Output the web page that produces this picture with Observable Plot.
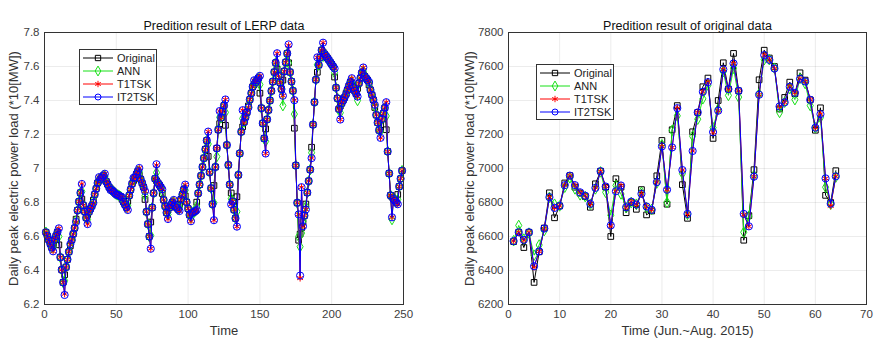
<!DOCTYPE html>
<html><head><meta charset="utf-8">
<script src="https://cdn.jsdelivr.net/npm/d3@7"></script>
<script src="https://cdn.jsdelivr.net/npm/@observablehq/plot@0.6"></script>
<style>
body{margin:0;background:#fff;font-family:"Liberation Sans",Arial,sans-serif;}
#wrap{display:flex;width:880px;height:354px;}
.panel{position:relative;width:440px;height:354px;}
.panel svg.legend{position:absolute;left:0;top:0;}
</style></head><body>
<div id="wrap"><div class="panel" id="p1"></div><div class="panel" id="p2"></div></div>
<script>
// ---------- LERP data (left panel), index t = 1..249 ----------
const lerpOriginal = [
6.625,6.603,6.580,6.558, 6.535,6.558,6.580,6.603, 6.625,6.551,6.478,6.404, 6.330,6.375,6.420,6.465,
6.510,6.545,6.580,6.615, 6.650,6.702,6.754,6.805, 6.857,6.820,6.784,6.747, 6.710,6.728,6.745,6.763,
6.780,6.814,6.848,6.881, 6.915,6.926,6.937,6.947, 6.958,6.941,6.924,6.907, 6.890,6.881,6.873,6.864,
6.855,6.850,6.845,6.840, 6.835,6.819,6.804,6.788, 6.772,6.807,6.841,6.876, 6.910,6.929,6.947,6.966,
6.984,6.961,6.937,6.914, 6.890,6.818,6.745,6.673, 6.600,6.685,6.770,6.855, 6.940,6.928,6.915,6.903,
6.890,6.853,6.815,6.778, 6.740,6.755,6.770,6.785, 6.800,6.790,6.780,6.770, 6.760,6.789,6.818,6.847,
6.876,6.839,6.802,6.764, 6.727,6.733,6.739,6.744, 6.750,6.802,6.854,6.905, 6.957,7.009,7.061,7.113,
7.165,7.071,6.978,6.884, 6.790,6.900,7.009,7.119, 7.228,7.264,7.299,7.335, 7.370,7.254,7.138,7.021,
6.905,6.856,6.806,6.757, 6.707,6.834,6.962,7.089, 7.216,7.245,7.273,7.302, 7.330,7.368,7.406,7.443,
7.481,7.494,7.507,7.519, 7.532,7.443,7.355,7.266, 7.177,7.233,7.289,7.344, 7.400,7.456,7.511,7.567,
7.622,7.583,7.545,7.506, 7.467,7.520,7.572,7.625, 7.677,7.622,7.567,7.512, 7.457,7.237,7.018,6.798,
6.578,6.614,6.651,6.687, 6.723,6.791,6.858,6.926, 6.993,7.125,7.258,7.390, 7.522,7.566,7.609,7.653,
7.696,7.685,7.673,7.662, 7.650,7.638,7.625,7.613, 7.600,7.538,7.475,7.413, 7.350,7.367,7.384,7.401,
7.418,7.441,7.463,7.486, 7.508,7.491,7.474,7.457, 7.440,7.471,7.502,7.532, 7.563,7.552,7.542,7.531,
7.520,7.491,7.462,7.433, 7.404,7.359,7.315,7.270, 7.225,7.258,7.291,7.324, 7.357,7.228,7.100,6.971,
6.842,6.832,6.821,6.811, 6.800,6.847,6.894,6.940, 6.987];
const lerpANN = [
6.625,6.610,6.585,6.560, 6.535,6.535,6.580,6.603, 6.625,6.600,6.478,6.404, 6.330,6.340,6.420,6.465,
6.510,6.550,6.575,6.610, 6.650,6.693,6.754,6.805, 6.857,6.865,6.784,6.747, 6.710,6.700,6.745,6.763,
6.780,6.806,6.848,6.881, 6.915,6.937,6.937,6.947, 6.958,6.955,6.924,6.907, 6.890,6.877,6.873,6.864,
6.855,6.848,6.845,6.840, 6.835,6.825,6.804,6.788, 6.772,6.781,6.841,6.876, 6.910,6.937,6.947,6.966,
6.984,6.982,6.937,6.914, 6.890,6.842,6.745,6.673, 6.600,6.606,6.770,6.855, 6.940,6.976,6.915,6.903,
6.890,6.865,6.815,6.778, 6.740,6.729,6.770,6.785, 6.800,6.802,6.780,6.770, 6.760,6.770,6.818,6.847,
6.876,6.872,6.802,6.764, 6.727,6.711,6.739,6.744, 6.750,6.779,6.854,6.905, 6.957,7.009,7.061,7.113,
7.165,7.144,6.978,6.884, 6.790,6.798,7.009,7.070, 7.228,7.301,7.299,7.335, 7.370,7.330,7.138,7.021,
6.905,6.822,6.806,6.757, 6.707,6.746,6.962,7.089, 7.216,7.294,7.273,7.302, 7.330,7.363,7.406,7.443,
7.481,7.506,7.507,7.519, 7.532,7.494,7.355,7.266, 7.177,7.160,7.289,7.344, 7.400,7.456,7.511,7.567,
7.622,7.600,7.545,7.506, 7.467,7.370,7.572,7.625, 7.677,7.620,7.567,7.512, 7.457,7.320,7.018,6.798,
6.600,6.540,6.620,6.690, 6.723,6.775,6.858,6.926, 6.993,7.093,7.258,7.390, 7.522,7.610,7.609,7.653,
7.696,7.660,7.673,7.662, 7.650,7.638,7.625,7.613, 7.600,7.563,7.475,7.413, 7.350,7.328,7.384,7.401,
7.418,7.438,7.463,7.486, 7.508,7.511,7.474,7.457, 7.440,7.400,7.502,7.532, 7.563,7.573,7.542,7.531,
7.520,7.500,7.462,7.433, 7.404,7.367,7.315,7.270, 7.225,7.219,7.291,7.324, 7.357,7.309,7.100,6.971,
6.842,6.700,6.821,6.811, 6.800,6.818,6.894,6.940, 6.987];
const lerpT1TSK = [
6.625,6.603,6.580,6.558, 6.535,6.513,6.580,6.603, 6.625,6.648,6.478,6.404, 6.330,6.262,6.420,6.465,
6.510,6.555,6.580,6.615, 6.650,6.685,6.754,6.805, 6.857,6.909,6.784,6.747, 6.710,6.673,6.745,6.763,
6.780,6.798,6.848,6.881, 6.915,6.949,6.937,6.947, 6.958,6.969,6.924,6.907, 6.890,6.873,6.873,6.864,
6.855,6.846,6.845,6.840, 6.835,6.830,6.804,6.788, 6.772,6.756,6.841,6.876, 6.910,6.945,6.947,6.966,
6.984,7.003,6.937,6.914, 6.890,6.867,6.745,6.673, 6.600,6.528,6.770,6.855, 6.940,7.020,6.915,6.903,
6.890,6.878,6.815,6.778, 6.740,6.703,6.770,6.785, 6.800,6.815,6.780,6.770, 6.760,6.750,6.818,6.847,
6.876,6.905,6.802,6.764, 6.727,6.690,6.739,6.744, 6.750,6.756,6.854,6.905, 6.957,7.009,7.061,7.113,
7.165,7.217,6.978,6.884, 6.790,6.696,7.009,7.119, 7.228,7.338,7.299,7.335, 7.370,7.406,7.138,7.021,
6.905,6.789,6.806,6.757, 6.707,6.658,6.962,7.089, 7.216,7.343,7.273,7.302, 7.330,7.359,7.406,7.443,
7.481,7.519,7.507,7.519, 7.532,7.545,7.355,7.266, 7.177,7.088,7.289,7.344, 7.400,7.456,7.511,7.567,
7.622,7.678,7.545,7.506, 7.467,7.428,7.572,7.625, 7.677,7.725,7.567,7.512, 7.457,7.402,7.018,6.798,
6.730,6.355,6.890,6.660, 6.723,6.759,6.858,6.926, 6.993,7.061,7.258,7.390, 7.522,7.654,7.609,7.653,
7.696,7.740,7.673,7.662, 7.650,7.639,7.625,7.613, 7.600,7.588,7.475,7.413, 7.350,7.288,7.384,7.401,
7.418,7.435,7.463,7.486, 7.508,7.531,7.474,7.457, 7.440,7.423,7.502,7.532, 7.563,7.594,7.542,7.531,
7.520,7.509,7.462,7.433, 7.404,7.375,7.315,7.270, 7.225,7.180,7.291,7.324, 7.357,7.390,7.100,6.971,
6.842,6.713,6.821,6.811, 6.800,6.790,6.894,6.940, 6.987];
const lerpIT2TSK = [
6.625,6.603,6.580,6.558, 6.535,6.513,6.580,6.603, 6.625,6.648,6.478,6.404, 6.330,6.256,6.420,6.465,
6.510,6.555,6.580,6.615, 6.650,6.685,6.754,6.805, 6.857,6.909,6.784,6.747, 6.710,6.673,6.745,6.763,
6.780,6.798,6.848,6.881, 6.915,6.949,6.937,6.947, 6.958,6.969,6.924,6.907, 6.890,6.873,6.873,6.864,
6.855,6.846,6.845,6.840, 6.835,6.830,6.804,6.788, 6.772,6.756,6.841,6.876, 6.910,6.945,6.947,6.966,
6.984,7.003,6.937,6.914, 6.890,6.867,6.745,6.673, 6.600,6.528,6.770,6.855, 6.940,7.025,6.915,6.903,
6.890,6.878,6.815,6.778, 6.740,6.703,6.770,6.785, 6.800,6.815,6.780,6.770, 6.760,6.750,6.818,6.847,
6.876,6.905,6.802,6.764, 6.727,6.690,6.739,6.744, 6.750,6.756,6.854,6.905, 6.957,7.009,7.061,7.113,
7.165,7.217,6.978,6.884, 6.790,6.696,7.009,7.119, 7.228,7.338,7.299,7.335, 7.370,7.406,7.138,7.021,
6.905,6.789,6.806,6.757, 6.707,6.658,6.962,7.089, 7.216,7.343,7.273,7.302, 7.330,7.359,7.406,7.443,
7.481,7.519,7.507,7.519, 7.532,7.545,7.355,7.266, 7.177,7.088,7.289,7.344, 7.400,7.456,7.511,7.567,
7.622,7.678,7.545,7.506, 7.467,7.428,7.572,7.625, 7.677,7.730,7.567,7.512, 7.457,7.402,7.018,6.798,
6.730,6.370,6.890,6.660, 6.723,6.759,6.858,6.926, 6.993,7.061,7.258,7.390, 7.522,7.654,7.609,7.653,
7.696,7.740,7.673,7.662, 7.650,7.639,7.625,7.613, 7.600,7.588,7.475,7.413, 7.350,7.288,7.384,7.401,
7.418,7.435,7.463,7.486, 7.508,7.531,7.474,7.457, 7.440,7.423,7.502,7.532, 7.563,7.594,7.542,7.531,
7.520,7.509,7.462,7.433, 7.404,7.375,7.315,7.270, 7.225,7.180,7.291,7.324, 7.357,7.390,7.100,6.971,
6.842,6.713,6.821,6.811, 6.800,6.790,6.894,6.940, 6.987];

// ---------- Original data (right panel), day 1..64 ----------
const dayOriginal = [6570,6625,6535,6625,6330,6510,6650,6857,6710,6780,6915,6958,6890,6855,6835,6772,
6910,6984,6890,6600,6940,6890,6740,6800,6760,6876,6727,6750,6957,7165,6790,7228,
7370,6905,6707,7216,7330,7481,7532,7177,7400,7622,7467,7677,7457,6578,6723,6993,
7522,7696,7650,7600,7350,7418,7508,7440,7563,7520,7404,7225,7357,6842,6800,6987];
const dayANN = [6575,6665,6585,6620,6490,6550,6635,6830,6790,6780,6890,6945,6880,6845,6835,6790,
6880,6980,6860,6725,6900,6850,6770,6800,6790,6860,6770,6760,6915,7140,6800,7225,
7310,6970,6730,7190,7290,7410,7490,7240,7350,7570,7430,7590,7420,6625,6720,6960,
7440,7640,7640,7590,7330,7390,7470,7405,7530,7500,7370,7240,7300,6890,6790,6950];
const dayT1TSK = [6573,6625,6578,6625,6420,6512,6647,6831,6768,6780,6902,6958,6902,6860,6840,6792,
6886,6984,6894,6662,6866,6900,6772,6805,6788,6851,6776,6757,6920,7130,6875,7124,
7355,6991,6733,7103,7330,7451,7508,7214,7340,7583,7467,7618,7457,6728,6660,6952,
7434,7667,7639,7588,7365,7389,7481,7445,7528,7512,7404,7240,7320,6942,6780,6954];
const dayIT2TSK = [6573,6625,6580,6625,6425,6512,6647,6831,6768,6780,6902,6958,6902,6860,6840,6792,
6886,6984,6894,6665,6866,6900,6772,6805,6788,6851,6776,6757,6920,7130,6875,7124,
7355,6991,6733,7103,7330,7451,7508,7214,7340,7583,7467,7618,7457,6733,6660,6952,
7434,7667,7639,7588,7365,7389,7481,7445,7528,7512,7404,7240,7320,6942,6793,6954];

const seriesNames = ["Original","ANN","T1TSK","IT2TSK"];
const seriesColors = ["#000000","#18e018","#ff0000","#0000ff"];
const seriesSymbols = ["square","diamond","asterisk","circle"];

const lerpXTicks = [0,50,100,150,200,250];
const lerpYTicks = [6.2,6.4,6.6,6.8,7.0,7.2,7.4,7.6,7.8];
const dayXTicks = [0,10,20,30,40,50,60,70];
const dayYTicks = [6200,6400,6600,6800,7000,7200,7400,7600,7800];

function makePanel(el, cfg) {
  const marks = [];
  cfg.series.forEach((vals, k) => {
    const d = vals.map((v, i) => ({t: i + 1, v}));
    marks.push(Plot.line(d, {x: "t", y: "v", stroke: seriesColors[k], strokeWidth: 1}));
    marks.push(Plot.dot(d, {x: "t", y: "v", stroke: seriesColors[k], fill: "none",
      symbol: seriesSymbols[k], r: k === 3 ? 3.6 : 3.2, strokeWidth: 1}));
  });
  marks.push(Plot.frame({stroke: "#333", strokeWidth: 1}));
  marks.push(Plot.text([cfg.title], {frameAnchor: "top", textAnchor: "middle", dy: -11, fontSize: 12.5, fill: "#111"}));
  marks.push(Plot.text([cfg.xLabel], {frameAnchor: "bottom", textAnchor: "middle", dy: 30, fontSize: 13, fill: "#333"}));
  marks.push(Plot.text([cfg.yLabel], {frameAnchor: "left", textAnchor: "middle", dx: cfg.yLabDx, rotate: -90, fontSize: 13, fill: "#333"}));
  const chart = Plot.plot({
    width: 440, height: 354,
    marginLeft: cfg.ml, marginRight: cfg.mr, marginTop: 32, marginBottom: 50,
    style: {fontFamily: "Liberation Sans, Arial, sans-serif", fontSize: "11.5px", color: "#404040", background: "white", overflow: "visible"},
    x: {domain: cfg.xDomain, ticks: cfg.xTicks, grid: true, tickSize: 0, tickPadding: 5, label: null},
    y: {domain: cfg.yDomain, ticks: cfg.yTicks, grid: true, tickSize: 0, tickPadding: 5, label: null, tickFormat: cfg.yFmt},
    marks
  });
  el.appendChild(chart);

  // legend box (Matlab style)
  const L = cfg.legend;
  const svg = d3.select(el).append("svg").attr("class", "legend")
    .attr("width", 440).attr("height", 354);
  svg.append("rect").attr("x", L.x + 0.5).attr("y", L.y + 0.5).attr("width", 77).attr("height", 55)
    .attr("fill", "white").attr("stroke", "#333").attr("stroke-width", 1);
  seriesNames.forEach((name, k) => {
    const yy = L.y + 9 + k * 13;
    svg.append("line").attr("x1", L.x + 4).attr("x2", L.x + 34).attr("y1", yy).attr("y2", yy)
      .attr("stroke", seriesColors[k]).attr("stroke-width", 1);
    const sym = {square: d3.symbolSquare, diamond: d3.symbolDiamond, asterisk: d3.symbolAsterisk, circle: d3.symbolCircle}[seriesSymbols[k]];
    svg.append("path").attr("d", d3.symbol(sym, Math.PI * 9)())
      .attr("transform", `translate(${L.x + 19},${yy})`)
      .attr("fill", "none").attr("stroke", seriesColors[k]).attr("stroke-width", 1);
    svg.append("text").attr("x", L.x + 38).attr("y", yy).attr("dy", "0.35em")
      .attr("font-size", 11).attr("fill", "#222").attr("font-family", "Liberation Sans, Arial, sans-serif")
      .text(name);
  });
}

makePanel(document.getElementById("p1"), {
  series: [lerpOriginal, lerpANN, lerpT1TSK, lerpIT2TSK],
  xDomain: [0, 250], yDomain: [6.2, 7.8], xTicks: lerpXTicks, yTicks: lerpYTicks,
  yFmt: d => String(Math.round(d * 10) / 10),
  ml: 44, mr: 37, yLabDx: -31,
  title: "Predition result of LERP data", xLabel: "Time",
  yLabel: "Daily peak electric power load (*10[MW])",
  legend: {x: 79, y: 49}
});
makePanel(document.getElementById("p2"), {
  series: [dayOriginal, dayANN, dayT1TSK, dayIT2TSK],
  xDomain: [0, 70], yDomain: [6200, 7800], xTicks: dayXTicks, yTicks: dayYTicks,
  yFmt: d => String(d),
  ml: 68, mr: 14, yLabDx: -38.5,
  title: "Predition result of original data", xLabel: "Time (Jun.~Aug. 2015)",
  yLabel: "Daily peak electric power load (*10[MW])",
  legend: {x: 96, y: 64}
});
</script>
</body></html>
